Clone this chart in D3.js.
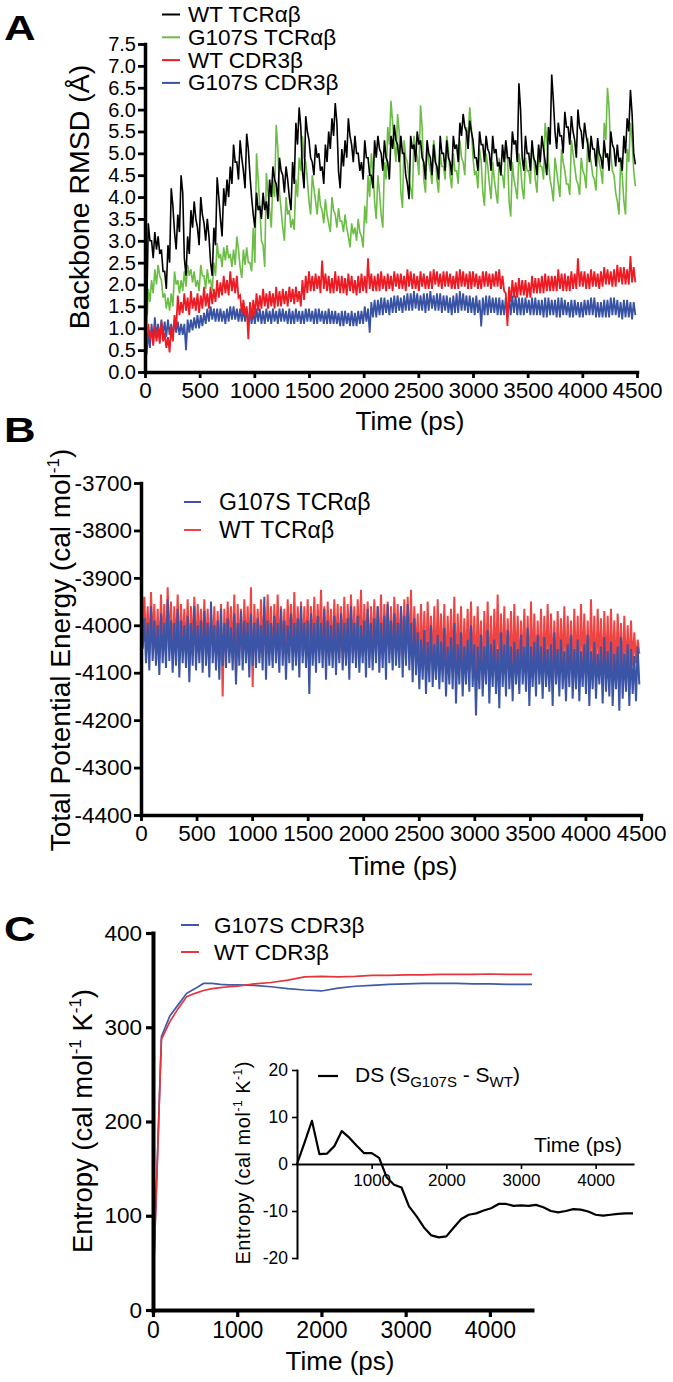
<!DOCTYPE html>
<meta charset="utf-8">
<script src="https://d3js.org/d3.v7.min.js"></script>
<style>
  body { margin: 0; background: #fff; }
  svg { display: block; }
</style>
<body>
<div id="my_dataviz"></div>
<script>

// Every trajectory is stored as the top and the bottom value seen in each 30 ps window
// (0-30, 30-60 ... 4470-4500 ps).
var WINDOW = 30;

// ---------- Panel A : backbone RMSD (Å) ----------
var rmsdWTHigh = [
  1.9,3.4,3.0,3.2,3.1,2.8,2.3,2.9,4.2,3.2,
  3.6,4.5,2.6,3.1,3.7,3.9,3.3,4.0,3.4,3.5,
  2.5,3.3,4.45,3.5,4.2,4.4,4.7,5.2,4.8,5.3,
  4.6,5.45,4.5,3.6,4.1,3.8,4.1,3.9,4.4,4.7,
  4.3,4.9,4.5,4.7,4.0,4.8,5.7,6.05,4.6,5.85,
  5.3,4.8,5.2,5.0,4.7,5.2,5.5,5.8,6.15,4.6,
  5.1,5.3,5.8,5.2,5.4,5.0,4.8,5.3,4.9,4.5,
  5.3,5.4,5.0,5.3,4.8,5.4,5.65,5.2,5.4,5.0,
  4.3,5.4,5.2,5.5,5.3,4.8,5.3,4.9,5.2,4.7,
  5.4,5.0,5.3,4.8,5.4,5.2,5.7,5.9,5.5,5.75,
  5.3,4.9,5.5,5.2,5.4,5.0,5.4,5.1,4.8,5.2,
  5.3,4.9,5.5,5.3,6.6,4.9,5.4,5.0,5.3,4.8,
  5.2,5.4,4.8,5.6,6.8,5.5,5.7,5.4,5.95,5.6,
  5.85,5.3,6.0,5.5,5.7,5.2,5.4,5.1,5.35,4.9,
  5.3,5.0,5.5,5.1,5.2,4.9,5.4,5.8,6.45,5.0];
var rmsdWTLow = [
  1.3,3.0,2.6,2.8,2.7,2.3,1.9,2.5,3.8,2.8,
  3.2,4.1,2.2,2.7,3.3,3.5,2.9,3.6,3.0,3.1,
  2.2,2.9,4.0,3.1,3.8,4.0,4.3,4.8,4.4,4.9,
  4.2,5.1,4.0,3.3,3.7,3.5,3.7,3.5,4.0,4.4,
  3.9,4.6,4.1,4.4,3.7,4.3,5.2,5.6,4.2,5.5,
  4.9,4.5,4.9,4.6,4.3,4.8,5.1,5.4,5.7,4.2,
  4.7,4.9,5.4,4.8,5.0,4.6,4.4,4.9,4.5,4.2,
  4.9,5.1,4.6,4.9,4.4,5.1,5.3,4.8,5.0,4.5,
  3.95,5.1,4.8,5.2,4.9,4.4,5.0,4.5,4.8,4.4,
  5.0,4.6,4.9,4.5,5.1,4.8,5.4,5.6,5.1,5.5,
  4.9,4.6,5.2,4.8,5.1,4.6,5.0,4.7,4.5,4.8,
  4.9,4.6,5.2,4.8,6.0,4.6,5.0,4.6,4.9,4.5,
  4.8,5.1,4.5,5.2,6.2,5.1,5.4,5.0,5.6,5.2,
  5.5,4.9,5.6,5.1,5.4,4.8,5.1,4.7,5.0,4.65,
  4.9,4.6,5.2,4.7,4.8,4.6,5.0,5.5,5.9,4.75];
var rmsdG107SHigh = [
  1.3,1.9,2.1,2.35,2.45,2.1,1.8,1.7,1.8,2.3,
  2.1,2.1,2.3,2.45,2.35,2.3,2.1,2.45,2.2,2.35,
  2.1,2.5,2.95,2.7,2.85,2.9,2.7,2.8,3.1,2.4,
  2.8,2.85,2.5,3.3,5.0,3.8,2.9,4.55,3.7,4.4,
  5.65,4.1,3.3,4.0,3.7,3.5,4.4,4.9,5.4,4.8,
  3.9,4.5,3.9,4.2,3.7,3.95,3.4,4.0,3.6,3.75,
  3.45,3.6,3.1,3.4,3.3,3.5,3.1,3.8,4.5,5.0,
  3.9,4.5,3.6,4.8,5.6,6.2,5.2,5.9,4.1,5.3,
  4.8,4.2,5.4,4.9,6.1,4.4,5.2,4.6,5.3,4.4,
  5.0,4.7,5.4,4.5,5.0,4.6,5.3,4.8,5.6,6.05,
  4.9,4.6,5.1,4.1,5.0,4.3,4.8,4.1,4.9,4.5,
  5.3,3.9,4.8,4.2,5.0,4.2,4.9,4.6,5.2,4.4,
  5.0,4.7,5.7,4.8,4.2,4.9,4.3,5.1,4.6,4.3,
  5.3,4.7,4.3,4.9,4.5,5.35,4.8,4.4,5.1,4.6,
  5.7,6.5,5.0,4.5,3.9,4.8,3.9,5.1,5.7,4.6];
var rmsdG107SLow = [
  0.9,1.6,1.8,2.0,2.2,1.7,1.45,1.4,1.5,2.0,
  1.8,1.85,1.95,2.2,2.05,1.95,1.85,2.2,1.9,2.05,
  1.85,2.2,2.6,2.4,2.55,2.6,2.4,2.45,2.8,2.15,
  2.45,2.5,2.3,2.5,4.4,3.0,2.4,4.1,3.3,4.0,
  5.1,3.7,3.0,3.6,3.3,3.25,4.0,4.6,4.9,4.4,
  3.6,4.2,3.6,3.8,3.4,3.6,3.2,3.7,3.3,3.45,
  3.2,3.3,2.85,3.15,3.0,3.2,2.85,3.4,4.0,4.6,
  3.5,4.1,3.3,4.4,5.2,5.7,4.8,5.5,3.75,4.9,
  4.4,3.95,5.1,4.5,5.6,4.1,4.8,4.3,5.0,4.1,
  4.7,4.4,5.1,4.2,4.6,4.3,4.9,4.5,5.3,5.6,
  4.5,4.2,4.8,3.8,4.7,3.95,4.4,3.85,4.5,4.2,
  5.0,3.55,4.4,3.95,4.7,3.95,4.6,4.3,4.9,4.1,
  4.7,4.4,5.3,4.4,3.9,4.6,4.0,4.8,4.3,4.05,
  5.0,4.4,4.05,4.6,4.2,5.0,4.5,4.15,4.8,4.3,
  5.3,6.0,4.6,4.1,3.6,4.5,3.6,4.8,5.3,4.25];
var rmsdCdrWTHigh = [
  1.0,1.1,0.95,1.05,1.0,1.15,0.9,0.8,1.05,1.3,
  1.75,1.6,1.8,1.7,1.85,1.7,1.8,1.75,1.95,1.8,
  1.95,1.9,2.1,2.05,2.2,2.1,2.3,2.15,2.2,1.75,
  1.65,1.5,1.6,1.65,1.8,1.75,1.9,1.8,1.85,1.8,
  1.95,1.85,1.9,1.85,1.95,1.9,1.95,1.85,2.1,2.2,
  2.3,2.2,2.25,2.2,2.55,2.25,2.2,2.15,2.3,2.2,
  2.2,2.15,2.25,2.2,2.1,2.2,2.25,2.2,2.6,2.25,
  2.2,2.25,2.3,2.2,2.25,2.2,2.3,2.25,2.25,2.2,
  2.35,2.3,2.25,2.2,2.3,2.25,2.2,2.3,2.35,2.3,
  2.25,2.3,2.3,2.25,2.2,2.3,2.35,2.3,2.25,2.3,
  2.3,2.25,2.2,2.3,2.3,2.25,2.25,2.3,2.35,2.2,
  1.8,1.95,2.1,2.05,2.15,2.1,2.1,2.05,2.2,2.15,
  2.15,2.2,2.25,2.2,2.2,2.2,2.35,2.25,2.25,2.2,
  2.3,2.25,2.6,2.3,2.3,2.25,2.35,2.3,2.25,2.3,
  2.4,2.35,2.3,2.35,2.45,2.4,2.4,2.35,2.65,2.4];
var rmsdCdrWTLow = [
  0.6,0.75,0.6,0.7,0.65,0.7,0.55,0.45,0.7,1.0,
  1.3,1.35,1.4,1.3,1.45,1.4,1.35,1.45,1.5,1.45,
  1.55,1.6,1.7,1.75,1.8,1.75,1.85,1.8,1.7,1.35,
  1.3,0.75,1.2,1.3,1.4,1.45,1.5,1.45,1.5,1.45,
  1.5,1.5,1.55,1.5,1.6,1.55,1.6,1.5,1.65,1.8,
  1.85,1.85,1.9,1.8,1.9,1.85,1.8,1.8,1.85,1.8,
  1.8,1.75,1.85,1.8,1.75,1.8,1.85,1.8,1.9,1.85,
  1.85,1.85,1.9,1.85,1.9,1.85,1.95,1.9,1.9,1.85,
  1.95,1.9,1.9,1.85,1.95,1.9,1.9,1.9,2.0,1.95,
  1.9,1.95,1.95,1.9,1.9,1.9,1.95,1.95,1.9,1.9,
  1.95,1.9,1.9,1.95,1.95,1.9,1.95,1.95,1.9,1.85,
  1.05,1.6,1.7,1.7,1.75,1.75,1.7,1.7,1.8,1.8,
  1.8,1.8,1.85,1.85,1.85,1.85,1.9,1.85,1.85,1.85,
  1.9,1.9,1.95,1.95,1.9,1.9,1.95,1.95,1.9,1.95,
  2.0,2.0,1.95,1.95,2.05,2.0,2.0,2.0,2.05,2.05];
var rmsdCdrG107SHigh = [
  0.75,0.9,1.1,1.25,1.1,1.2,1.15,1.2,1.1,1.2,
  1.15,1.1,1.1,1.2,1.2,1.25,1.3,1.3,1.35,1.45,
  1.5,1.45,1.45,1.45,1.4,1.45,1.5,1.5,1.45,1.45,
  1.45,1.45,1.4,1.4,1.45,1.45,1.4,1.45,1.4,1.45,
  1.4,1.45,1.45,1.4,1.45,1.4,1.45,1.4,1.4,1.45,
  1.45,1.4,1.45,1.45,1.4,1.4,1.45,1.4,1.4,1.35,
  1.4,1.4,1.35,1.4,1.35,1.4,1.4,1.5,1.45,1.6,
  1.65,1.65,1.7,1.7,1.65,1.7,1.75,1.75,1.7,1.75,
  1.8,1.8,1.85,1.8,1.75,1.8,1.8,1.85,1.75,1.8,
  1.8,1.75,1.75,1.7,1.75,1.8,1.85,1.8,1.75,1.75,
  1.7,1.75,1.65,1.7,1.75,1.75,1.7,1.7,1.7,1.65,
  1.7,1.7,1.75,1.75,1.7,1.7,1.7,1.65,1.7,1.7,
  1.65,1.65,1.7,1.7,1.65,1.65,1.7,1.7,1.65,1.6,
  1.65,1.65,1.6,1.6,1.65,1.65,1.7,1.7,1.6,1.6,
  1.65,1.65,1.7,1.7,1.65,1.6,1.65,1.65,1.6,1.6];
var rmsdCdrG107SLow = [
  0.4,0.55,0.7,0.8,0.75,0.85,0.8,0.85,0.8,0.9,
  0.85,0.85,0.5,0.9,0.95,1.0,1.0,1.05,1.1,1.15,
  1.2,1.15,1.15,1.15,1.1,1.15,1.2,1.2,1.15,1.15,
  1.15,1.1,1.1,1.1,1.15,1.1,1.1,1.15,1.1,1.15,
  1.1,1.15,1.15,1.1,1.1,1.1,1.15,1.1,1.1,1.15,
  1.15,1.1,1.1,1.15,1.1,1.1,1.1,1.1,1.1,1.05,
  1.05,1.1,1.05,1.05,1.05,1.1,1.1,1.15,0.9,1.25,
  1.25,1.3,1.3,1.35,1.3,1.35,1.35,1.4,1.35,1.4,
  1.4,1.4,1.45,1.4,1.4,1.35,1.4,1.45,1.4,1.4,
  1.35,1.4,1.35,1.3,1.35,1.35,1.4,1.4,1.35,1.35,
  1.3,1.35,1.04,1.3,1.3,1.35,1.35,1.3,1.3,1.3,
  1.25,1.3,1.35,1.3,1.3,1.3,1.35,1.3,1.3,1.3,
  1.3,1.25,1.25,1.3,1.3,1.25,1.25,1.3,1.3,1.25,
  1.25,1.3,1.25,1.25,1.3,1.3,1.3,1.25,1.25,1.25,
  1.25,1.25,1.3,1.3,1.25,1.2,1.25,1.25,1.2,1.3];
var rmsdTicks = [0,0.5,1,1.5,2,2.5,3,3.5,4,4.5,5,5.5,6,6.5,7,7.5];
var timeTicks = [0,500,1000,1500,2000,2500,3000,3500,4000,4500];

// ---------- Panel B : total potential energy ----------
var energyG107SHigh = [
  -3930,-3985,-3995,-3960,-3990,-4000,-3975,-3995,-3945,-3990,
  -3995,-3965,-3990,-4000,-3980,-3995,-3960,-4000,-3990,-3970,
  -3995,-3950,-4000,-3990,-3965,-3995,-3985,-4005,-3975,-3995,
  -3970,-3990,-3995,-3975,-3995,-3985,-4000,-3940,-3990,-3995,
  -3980,-3995,-3965,-3990,-4000,-3975,-3995,-3985,-3960,-3995,
  -3990,-3975,-3995,-3980,-3995,-3965,-3990,-4000,-3980,-3995,
  -3975,-3995,-3985,-3960,-3995,-3980,-4000,-3990,-3965,-3995,
  -3985,-3960,-3995,-3980,-3955,-3990,-3975,-3995,-3960,-3980,
  -3955,-3995,-3985,-4015,-4030,-4010,-4035,-4000,-4040,-4020,
  -4035,-4005,-4045,-4025,-3995,-4040,-4015,-4045,-4030,-4000,
  -4040,-4045,-4020,-4045,-4010,-4040,-4030,-4050,-4015,-4040,
  -4010,-4045,-4035,-4050,-4020,-4045,-4005,-4045,-4035,-4020,
  -4045,-4025,-4050,-4040,-4015,-4050,-4030,-4055,-4040,-4020,
  -4050,-4030,-4055,-4040,-4020,-4055,-4035,-4060,-4045,-4025,
  -4055,-4035,-4060,-4045,-4025,-4060,-4040,-4050,-4065,-4045];
var energyG107SLow = [
  -4050,-4080,-4095,-4075,-4085,-4105,-4080,-4090,-4075,-4100,
  -4085,-4110,-4080,-4090,-4120,-4085,-4095,-4080,-4100,-4085,
  -4110,-4080,-4095,-4115,-4085,-4090,-4080,-4095,-4125,-4085,
  -4095,-4080,-4110,-4085,-4090,-4080,-4095,-4115,-4085,-4090,
  -4080,-4100,-4085,-4115,-4080,-4095,-4085,-4110,-4080,-4090,
  -4145,-4085,-4100,-4080,-4090,-4115,-4085,-4090,-4105,-4080,
  -4095,-4085,-4115,-4080,-4090,-4100,-4080,-4110,-4090,-4095,
  -4080,-4100,-4090,-4115,-4080,-4095,-4085,-4090,-4110,-4085,
  -4095,-4120,-4105,-4135,-4115,-4145,-4120,-4130,-4115,-4135,
  -4120,-4150,-4125,-4135,-4165,-4125,-4150,-4125,-4140,-4130,
  -4190,-4135,-4150,-4125,-4165,-4130,-4145,-4175,-4130,-4150,
  -4135,-4160,-4125,-4145,-4125,-4140,-4170,-4130,-4150,-4125,
  -4155,-4130,-4140,-4170,-4125,-4150,-4135,-4160,-4130,-4155,
  -4135,-4160,-4130,-4145,-4170,-4135,-4155,-4125,-4165,-4140,
  -4150,-4170,-4135,-4180,-4155,-4140,-4170,-4145,-4160,-4125];
var energyWTHigh = [
  -3905,-3940,-3960,-3930,-3955,-3965,-3935,-3955,-3920,-3950,
  -3960,-3935,-3955,-3965,-3945,-3960,-3940,-3955,-3965,-3945,
  -3965,-3975,-3960,-3970,-3955,-3965,-3950,-3960,-3935,-3955,
  -3965,-3945,-3960,-3920,-3955,-3965,-3945,-3960,-3935,-3960,
  -3955,-3935,-3960,-3965,-3945,-3955,-3930,-3960,-3950,-3960,
  -3945,-3960,-3940,-3955,-3925,-3960,-3950,-3965,-3945,-3955,
  -3960,-3940,-3955,-3935,-3960,-3945,-3925,-3955,-3950,-3960,
  -3945,-3960,-3935,-3955,-3950,-3960,-3940,-3955,-3960,-3945,
  -3940,-3925,-3960,-3975,-3955,-3970,-3950,-3980,-3960,-3945,
  -3975,-3955,-3980,-3965,-3940,-3975,-3960,-3985,-3965,-3950,
  -3980,-3960,-3990,-3970,-3950,-3980,-3965,-3935,-3975,-3960,
  -3985,-3970,-3955,-3980,-3990,-3965,-3980,-3950,-3975,-3990,
  -3965,-3980,-3955,-3975,-3990,-3970,-3985,-3960,-3980,-3990,
  -3965,-3980,-3955,-3975,-3990,-3945,-3980,-3965,-3985,-3970,
  -3980,-3965,-3990,-3975,-3995,-3980,-4000,-3990,-4015,-4030];
var energyWTLow = [
  -4020,-4040,-4060,-4035,-4055,-4070,-4045,-4060,-4040,-4065,
  -4050,-4070,-4045,-4060,-4075,-4050,-4065,-4040,-4060,-4055,
  -4070,-4045,-4065,-4075,-4150,-4060,-4050,-4065,-4110,-4055,
  -4070,-4050,-4065,-4130,-4055,-4070,-4045,-4065,-4060,-4075,
  -4050,-4065,-4055,-4075,-4045,-4060,-4070,-4050,-4065,-4055,
  -4070,-4050,-4065,-4045,-4060,-4075,-4050,-4065,-4055,-4070,
  -4055,-4070,-4045,-4060,-4075,-4050,-4065,-4055,-4070,-4050,
  -4065,-4050,-4070,-4045,-4060,-4075,-4050,-4065,-4055,-4070,
  -4060,-4080,-4065,-4090,-4075,-4095,-4070,-4085,-4100,-4080,
  -4090,-4105,-4085,-4100,-4110,-4090,-4105,-4085,-4100,-4095,
  -4105,-4090,-4110,-4095,-4115,-4100,-4090,-4110,-4095,-4105,
  -4090,-4110,-4095,-4105,-4085,-4100,-4115,-4090,-4105,-4095,
  -4110,-4090,-4105,-4095,-4115,-4100,-4090,-4110,-4095,-4105,
  -4095,-4110,-4090,-4105,-4115,-4095,-4110,-4090,-4105,-4100,
  -4110,-4095,-4105,-4090,-4110,-4100,-4095,-4085,-4080,-4060];
var energyTicks = [-3700,-3800,-3900,-4000,-4100,-4200,-4300,-4400];

// ---------- Panel C : entropy ----------
var entropyTime = [0,100,200,300,400,500,600,700,800,900,1000,1200,1400,1600,1800,2000,
                   2200,2400,2600,2800,3000,3200,3400,3600,3800,4000,4200,4400,4500];
var entropyG107S = [20,290,312,324,336,341,346.5,346.5,345.5,345,345,344.5,343,341,339.5,338.5,
                    341.5,343.5,344.5,345.5,346,346.5,346.5,346.5,346,346,345.5,345.5,345.5];
var entropyWT = [20,287,306,320,332.5,336,339,341,342,343,343.5,346,347.5,350,353.5,354,
                 353.5,354,355,355,355.5,355.5,356,356,356,356.5,356,356,356];
var entropyTicks = [0,100,200,300,400];
var entropyTimeTicks = [0,1000,2000,3000,4000];

// inset : ΔS = S(G107S) - S(WT), every 100 ps
var deltaTime = [0,100,200,300,400,500,600,700,800,900,1000,1100,1200,1300,1400,1500,1600,1700,
  1800,1900,2000,2100,2200,2300,2400,2500,2600,2700,2800,2900,3000,3100,3200,3300,3400,3500,
  3600,3700,3800,3900,4000,4100,4200,4300,4400,4500];
var deltaS = [0,4.5,9.2,2.1,2.2,3.8,7.0,5.6,3.9,2.3,2.3,1.3,-2.8,-4.4,-5.0,-9.0,-11.1,-13.5,
  -15.2,-15.6,-15.4,-13.5,-11.7,-10.8,-10.5,-9.9,-9.4,-8.5,-8.5,-8.9,-8.8,-8.9,-8.7,-9.2,-10.0,-10.3,
  -10.0,-9.6,-9.7,-10.1,-10.8,-11.0,-10.8,-10.6,-10.5,-10.5];
var deltaTicks = [-20,-10,0,10,20];
var deltaTimeTicks = [1000,2000,3000,4000];

var FONT = "Liberation Sans, Arial, Helvetica, sans-serif";

var svg = d3.select("#my_dataviz")
  .append("svg")
    .attr("width", 673)
    .attr("height", 1382)
    .attr("font-family", FONT);

svg.append("rect").attr("width", 673).attr("height", 1382).attr("fill", "#fff");

// axis helper: thick black axes like the figure
function drawAxis(g, axis, width, font) {
  g.call(axis);
  g.attr("font-family", null).attr("font-size", null);
  g.select(".domain").attr("stroke", "#000").attr("stroke-width", width).attr("stroke-linecap", "square");
  g.selectAll(".tick line").attr("stroke", "#000").attr("stroke-width", width * 0.8);
  g.selectAll(".tick text").attr("fill", "#000").attr("font-size", font);
}

function legend(items, o) {
  items.forEach(function(d, i) {
    var y = o.y + i * o.step;
    svg.append("line")
      .attr("x1", o.x1).attr("x2", o.x2)
      .attr("y1", y - o.mid).attr("y2", y - o.mid)
      .attr("stroke", d.color).attr("stroke-width", 2);
    svg.append("text").attr("x", o.tx).attr("y", y).attr("font-size", o.font).text(d.name);
  });
}

function panelLetter(letter, y) {
  svg.append("text").attr("transform", "translate(4," + y + ") scale(1.25,1)")
    .attr("font-size", 35).attr("font-weight", "bold").text(letter);
}

// top of window i at its start, bottom half a window later
function windows(high, low) {
  var pts = [];
  high.forEach(function(h, i) {
    pts.push([i * WINDOW, h]);
    pts.push([i * WINDOW + WINDOW / 2, low[i]]);
  });
  return pts;
}

// ======================= A =======================
var xA = d3.scaleLinear().domain([0, 4500]).range([145, 637]);
var yA = d3.scaleLinear().domain([0, 7.5]).range([372, 44]);
var lineA = d3.line().x(function(d) { return xA(d[0]); }).y(function(d) { return yA(d[1]); });

[[rmsdCdrG107SHigh, rmsdCdrG107SLow, "#3953a4", 1.8],
 [rmsdCdrWTHigh, rmsdCdrWTLow, "#ed1c24", 1.8],
 [rmsdG107SHigh, rmsdG107SLow, "#6cbd45", 1.6],
 [rmsdWTHigh, rmsdWTLow, "#000", 1.6]]
  .forEach(function(s) {
    svg.append("path").datum(windows(s[0], s[1]))
      .attr("d", lineA).attr("fill", "none")
      .attr("stroke", s[2]).attr("stroke-width", s[3]);
  });

drawAxis(svg.append("g").attr("transform", "translate(0,372)"),
  d3.axisBottom(xA).tickValues(timeTicks).tickFormat(String).tickSize(6).tickSizeOuter(0).tickPadding(4), 3.5, 22.5);
drawAxis(svg.append("g").attr("transform", "translate(145,0)"),
  d3.axisLeft(yA).tickValues(rmsdTicks).tickFormat(d3.format(".1f")).tickSize(7).tickSizeOuter(0).tickPadding(2), 3.5, 20);

svg.append("text").attr("transform", "translate(89,197) rotate(-90)")
  .attr("text-anchor", "middle").attr("font-size", 28.5).text("Backbone RMSD (Å)");
svg.append("text").attr("x", 410).attr("y", 430).attr("text-anchor", "middle")
  .attr("font-size", 26).text("Time (ps)");

legend([{name: "WT TCRαβ", color: "#000"}, {name: "G107S TCRαβ", color: "#6cbd45"},
        {name: "WT CDR3β", color: "#ed1c24"}, {name: "G107S CDR3β", color: "#3953a4"}],
  {x1: 162, x2: 180, tx: 188, y: 22, step: 22.8, mid: 7.5, font: 22.5});
panelLetter("A", 40);

// ======================= B =======================
var xB = d3.scaleLinear().domain([0, 4500]).range([141, 641]);
var yB = d3.scaleLinear().domain([-4400, -3700]).range([815, 483]);
var lineB = d3.line().x(function(d) { return xB(d[0]); }).y(function(d) { return yB(d[1]); });

[[energyWTHigh, energyWTLow, "#ef4444"], [energyG107SHigh, energyG107SLow, "#3b54a5"]]
  .forEach(function(s) {
    svg.append("path").datum(windows(s[0], s[1]))
      .attr("d", lineB).attr("fill", "none")
      .attr("stroke", s[2]).attr("stroke-width", 2);
  });

drawAxis(svg.append("g").attr("transform", "translate(0,815)"),
  d3.axisBottom(xB).tickValues(timeTicks).tickFormat(String).tickSize(6).tickSizeOuter(0).tickPadding(4), 3.5, 22.5);
drawAxis(svg.append("g").attr("transform", "translate(141,0)"),
  d3.axisLeft(yB).tickValues(energyTicks).tickFormat(String).tickSize(7).tickSizeOuter(0).tickPadding(2), 3.5, 22.5);

var tb = svg.append("text").attr("transform", "translate(70,650) rotate(-90)")
  .attr("text-anchor", "middle").attr("font-size", 28);
tb.append("tspan").text("Total Potential Energy (cal mol");
tb.append("tspan").attr("font-size", 17).attr("dy", -11).text("-1");
tb.append("tspan").attr("dy", 11).text(")");
svg.append("text").attr("x", 403).attr("y", 875).attr("text-anchor", "middle")
  .attr("font-size", 26).text("Time (ps)");

legend([{name: "G107S TCRαβ", color: "#3b54a5"}, {name: "WT TCRαβ", color: "#ef4444"}],
  {x1: 184, x2: 201, tx: 219, y: 510, step: 28, mid: 8, font: 23});
panelLetter("B", 442);

// ======================= C =======================
var xC = d3.scaleLinear().domain([0, 4500]).range([153, 532]);
var yC = d3.scaleLinear().domain([0, 400]).range([1310, 933]);
var lineC = d3.line()
  .x(function(d, i) { return xC(entropyTime[i]); })
  .y(function(d) { return yC(d); });

[[entropyG107S, "#3f5aa8"], [entropyWT, "#e8343b"]].forEach(function(s) {
  svg.append("path").datum(s[0]).attr("d", lineC).attr("fill", "none")
    .attr("stroke", s[1]).attr("stroke-width", 1.7);
});

drawAxis(svg.append("g").attr("transform", "translate(0,1310)"),
  d3.axisBottom(xC).tickValues(entropyTimeTicks).tickFormat(String).tickSize(7).tickSizeOuter(0).tickPadding(5), 4, 23);
drawAxis(svg.append("g").attr("transform", "translate(153,0)"),
  d3.axisLeft(yC).tickValues(entropyTicks).tickFormat(String).tickSize(7).tickSizeOuter(0).tickPadding(4), 4, 22.5);

var tc = svg.append("text").attr("transform", "translate(92,1121) rotate(-90)")
  .attr("text-anchor", "middle").attr("font-size", 27.5);
tc.append("tspan").text("Entropy (cal mol");
tc.append("tspan").attr("font-size", 17).attr("dy", -11).text("-1");
tc.append("tspan").attr("dy", 11).text(" K");
tc.append("tspan").attr("font-size", 17).attr("dy", -11).text("-1");
tc.append("tspan").attr("dy", 11).text(")");
svg.append("text").attr("x", 340).attr("y", 1370).attr("text-anchor", "middle")
  .attr("font-size", 26).text("Time (ps)");

legend([{name: "G107S CDR3β", color: "#3f5aa8"}, {name: "WT CDR3β", color: "#e8343b"}],
  {x1: 181, x2: 199, tx: 214, y: 933, step: 27, mid: 8, font: 22.5});
panelLetter("C", 941);

// ---- inset ----
var xI = d3.scaleLinear().domain([0, 4500]).range([297, 633]);
var yI = d3.scaleLinear().domain([-20, 20]).range([1258, 1070]);
var lineI = d3.line()
  .x(function(d, i) { return xI(deltaTime[i]); })
  .y(function(d) { return yI(d); });

drawAxis(svg.append("g").attr("transform", "translate(0," + yI(0) + ")"),
  d3.axisBottom(xI).tickValues(deltaTimeTicks).tickFormat(String).tickSize(5).tickSizeOuter(0).tickPadding(5), 2, 17);
drawAxis(svg.append("g").attr("transform", "translate(297,0)"),
  d3.axisLeft(yI).tickValues(deltaTicks).tickFormat(String).tickSize(5).tickSizeOuter(0).tickPadding(4), 2, 17.5);

svg.append("path").datum(deltaS).attr("d", lineI).attr("fill", "none")
  .attr("stroke", "#000").attr("stroke-width", 2.2).attr("stroke-linejoin", "round");

var ti = svg.append("text").attr("transform", "translate(250,1163) rotate(-90)")
  .attr("text-anchor", "middle").attr("font-size", 20)
  .attr("textLength", 203).attr("lengthAdjust", "spacing");
ti.append("tspan").text("Entropy (cal mol");
ti.append("tspan").attr("font-size", 12).attr("dy", -8).text("-1");
ti.append("tspan").attr("dy", 8).text(" K");
ti.append("tspan").attr("font-size", 12).attr("dy", -8).text("-1");
ti.append("tspan").attr("dy", 8).text(")");

svg.append("text").attr("x", 622).attr("y", 1152).attr("text-anchor", "end")
  .attr("font-size", 21).text("Time (ps)");

svg.append("line").attr("x1", 318).attr("x2", 338).attr("y1", 1076).attr("y2", 1076)
  .attr("stroke", "#000").attr("stroke-width", 2.2);
var tl = svg.append("text").attr("x", 355).attr("y", 1082).attr("font-size", 21);
tl.append("tspan").text("DS");
tl.append("tspan").attr("dx", 5).text("(S");
tl.append("tspan").attr("font-size", 15).attr("dy", 5).text("G107S");
tl.append("tspan").attr("dy", -5).text(" - S");
tl.append("tspan").attr("font-size", 15).attr("dy", 5).text("WT");
tl.append("tspan").attr("dy", -5).text(")");

</script>
</body>
